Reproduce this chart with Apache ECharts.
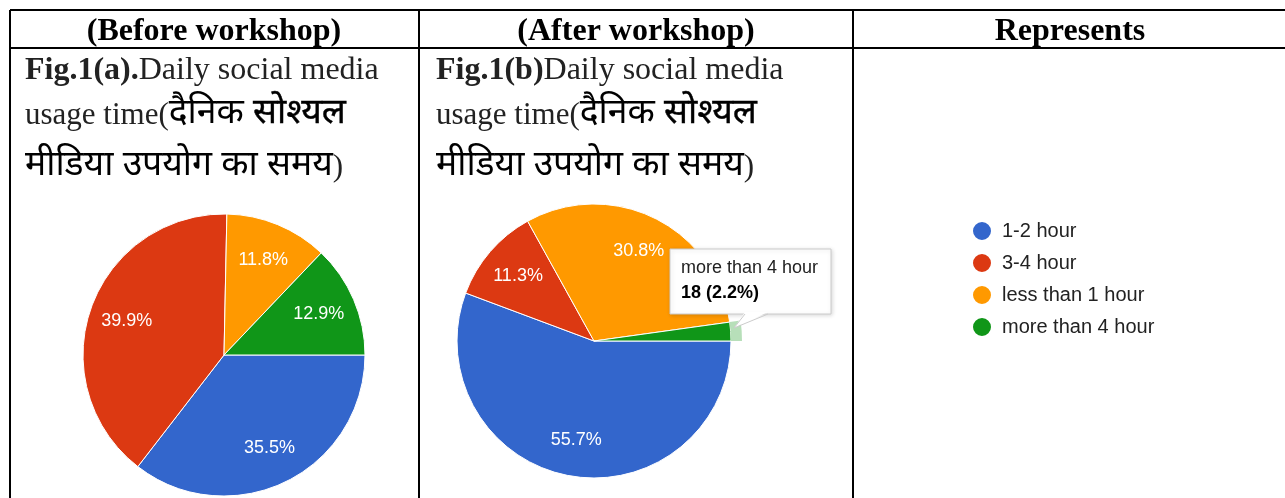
<!DOCTYPE html>
<html>
<head>
<meta charset="utf-8">
<script src="https://cdn.jsdelivr.net/npm/echarts@6/dist/echarts.min.js"></script>
<style>
    html, body { margin: 0; padding: 0; background: #fff; }
    #chart { width: 1285px; height: 498px; }
</style>
</head>
<body>
<div id="chart"></div>
<script>
    // categories in drawing order (clockwise from 3 o'clock)
    const categories = ['1-2 hour', '3-4 hour', 'less than 1 hour', 'more than 4 hour'];
    const sliceColors = ['#3366cc', '#dc3912', '#ff9900', '#109618'];
    // before: read as percentages; after: respondent counts (18 shown in callout)
    const beforeValues = [35.5, 39.9, 11.8, 12.9];
    const afterValues = [455, 92, 252, 18];
    const headers = ['(Before workshop)', '(After workshop)', 'Represents'];
    const figTags = ['Fig.1(a).', 'Fig.1(b)'];
    const calloutIndex = 3;

    const SERIF = "'Liberation Serif', 'Times New Roman', serif";
    const SANS = "'Liberation Sans', Arial, sans-serif";
    const DEVA = "'Noto Sans Devanagari', 'Noto Sans', 'Lohit Devanagari', sans-serif";

    const sum = arr => arr.reduce((a, b) => a + b, 0);
    const pct = (arr, i) => (arr[i] / sum(arr) * 100).toFixed(1);

    function pieData(values, colorFn) {
        return values.map((v, i) => ({
            name: categories[i],
            value: v,
            itemStyle: { color: colorFn(i) }
        }));
    }

    function pieSeries(values, center, r) {
        return [
            {
                type: 'pie',
                center: center,
                radius: [0, r],
                startAngle: 0,
                clockwise: true,
                silent: true,
                label: { show: false },
                labelLine: { show: false },
                itemStyle: { borderColor: '#fff', borderWidth: 1 },
                emphasis: { disabled: true },
                data: pieData(values, i => sliceColors[i])
            },
            {
                // label ring, puts percentages at ~0.7 r like the original
                type: 'pie',
                center: center,
                radius: [r * 0.42, r],
                startAngle: 0,
                clockwise: true,
                silent: true,
                minShowLabelAngle: 10,
                label: {
                    show: true,
                    position: 'inside',
                    color: '#fff',
                    fontFamily: SANS,
                    fontSize: 18,
                    formatter: p => pct(values, p.dataIndex) + '%'
                },
                labelLine: { show: false },
                emphasis: { disabled: true },
                data: pieData(values, () => 'rgba(0,0,0,0)')
            }
        ];
    }

    const series = [].concat(
        pieSeries(beforeValues, [224, 355], 141),
        pieSeries(afterValues, [594, 341], 137),
        [{
            // hover ring on the "more than 4 hour" slice
            type: 'pie',
            center: [594, 341],
            radius: [137, 148],
            startAngle: 0,
            clockwise: true,
            silent: true,
            label: { show: false },
            labelLine: { show: false },
            emphasis: { disabled: true },
            data: pieData(afterValues, i => i === calloutIndex ? 'rgba(16,150,24,0.3)' : 'rgba(0,0,0,0)')
        }]
    );

    function line(x1, y1, x2, y2) {
        return { type: 'line', shape: { x1, y1, x2, y2 }, style: { stroke: '#000', lineWidth: 2 } };
    }

    const richStyles = {
        b: { fontFamily: SERIF, fontWeight: 'bold', fontSize: 32, fill: '#222' },
        r: { fontFamily: SERIF, fontSize: 32, fill: '#222' },
        r2: { fontFamily: SERIF, fontSize: 31, fill: '#222' },
        h: { fontFamily: DEVA, fontSize: 35.5, fill: '#000' },
        hb: { fontFamily: DEVA, fontSize: 35.5, fill: '#000', stroke: '#000', lineWidth: 0.4 }
    };

    function figText(x, tag) {
        const rows = [
            '{b|' + tag + '}{r|Daily social media}',
            '{r2|usage time(}{h|दैनिक }{hb|सोश्यल}',
            '{h|मीडिया उपयोग का समय}{r2|)}'
        ];
        const ys = [71, 116, 168];
        return rows.map((t, i) => ({
            type: 'text', x: x, y: ys[i],
            style: { text: t, rich: richStyles, verticalAlign: 'middle', align: 'left' }
        }));
    }

    const headerX = [214, 636, 1070];
    const graphic = [
        line(10, 10, 1285, 10),
        line(10, 48, 1285, 48),
        line(10, 10, 10, 498),
        line(419, 10, 419, 498),
        line(853, 10, 853, 498)
    ].concat(
        headers.map((h, i) => ({
            type: 'text', x: headerX[i], y: 32,
            style: {
                text: h, fontFamily: SERIF, fontWeight: 'bold', fontSize: 32,
                fill: '#000', align: 'center', verticalAlign: 'middle'
            }
        })),
        figText(25, figTags[0]),
        figText(436, figTags[1]),
        [
            {
                type: 'rect', z: 10,
                shape: { x: 670, y: 249, width: 161, height: 65 },
                style: {
                    fill: '#fff', stroke: '#ccc', lineWidth: 1,
                    shadowBlur: 4, shadowColor: 'rgba(0,0,0,0.15)', shadowOffsetX: 1, shadowOffsetY: 1
                }
            },
            {
                type: 'polygon', z: 11,
                shape: { points: [[745, 312], [768, 312], [734, 328]] },
                style: { fill: '#fff' }
            },
            {
                type: 'polyline', z: 11,
                shape: { points: [[745, 314], [734, 328], [768, 314]] },
                style: { stroke: '#ccc', lineWidth: 1, fill: null }
            },
            {
                type: 'text', z: 12, x: 681, y: 268,
                style: {
                    text: categories[calloutIndex], fontFamily: SANS, fontSize: 18,
                    fill: '#222', verticalAlign: 'middle'
                }
            },
            {
                type: 'text', z: 12, x: 681, y: 293,
                style: {
                    text: afterValues[calloutIndex] + ' (' + pct(afterValues, calloutIndex) + '%)',
                    fontFamily: SANS, fontSize: 18, fontWeight: 'bold',
                    fill: '#000', verticalAlign: 'middle'
                }
            }
        ]
    );

    const chart = echarts.init(document.getElementById('chart'), null, { renderer: 'canvas' });
    chart.setOption({
        backgroundColor: '#fff',
        animation: false,
        legend: {
            orient: 'vertical',
            left: 966,
            top: 215,
            icon: 'circle',
            itemWidth: 20,
            itemHeight: 20,
            itemGap: 10,
            selectedMode: false,
            data: categories,
            textStyle: { fontFamily: SANS, fontSize: 20, color: '#222', padding: [0, 0, 0, 5] }
        },
        graphic: graphic,
        series: series
    });
</script>
</body>
</html>
